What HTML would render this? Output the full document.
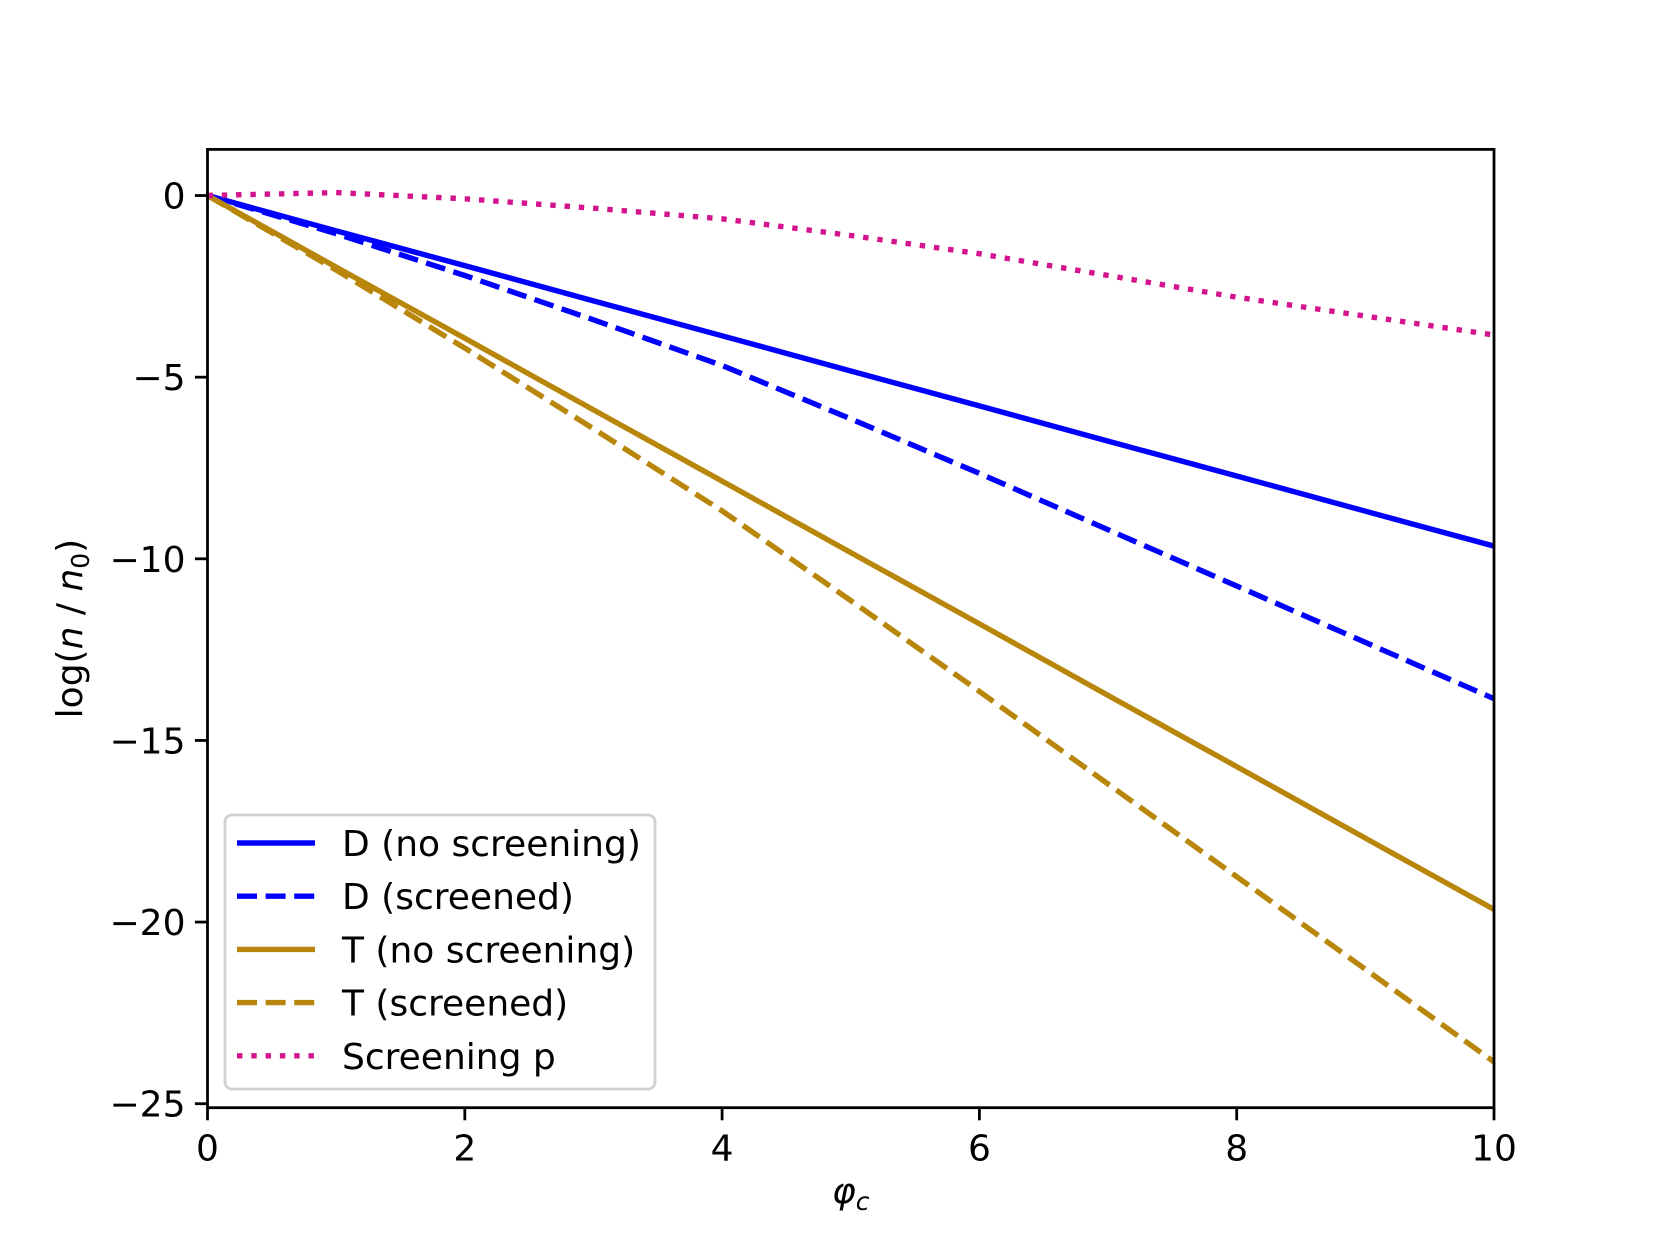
<!DOCTYPE html>
<html><head><meta charset="utf-8"><style>
html,body{margin:0;padding:0;background:#fff;}
svg{display:block;font-family:"DejaVu Sans","Liberation Sans",sans-serif;}
</style></head><body>
<svg id="chart" width="1660" height="1245" viewBox="0 0 1660 1245">
<g id="plot"></g>
</svg>
<script>
const xs = [0,1,2,3,4,5,6,7,8,9,10];
const dNoScreen = [0,-0.97,-1.93,-2.9,-3.86,-4.83,-5.79,-6.76,-7.72,-8.69,-9.65];
const dScreened = [0,-1.05,-2.2,-3.42,-4.68,-6.15,-7.65,-9.2,-10.75,-12.3,-13.85];
const tNoScreen = [0,-1.97,-3.93,-5.9,-7.86,-9.83,-11.79,-13.76,-15.72,-17.69,-19.65];
const tScreened = [0,-2.05,-4.2,-6.42,-8.68,-11.15,-13.65,-16.2,-18.75,-21.3,-23.85];
const screeningP = [0,0.08,-0.09,-0.35,-0.64,-1.1,-1.6,-2.2,-2.8,-3.32,-3.84];
const xTicks = [0,2,4,6,8,10];
const yTicks = [0,-5,-10,-15,-20,-25];
const yTickLabels = ["0","\u22125","\u221210","\u221215","\u221220","\u221225"];

const L=207.5,R=1494,T=149.4,B=1107.7;
const xMin=0,xMax=10,yMin=-25.11,yMax=1.27;
const sx=v=>L+(v-xMin)/(xMax-xMin)*(R-L);
const sy=v=>B-(v-yMin)/(yMax-yMin)*(B-T);
const NS="http://www.w3.org/2000/svg";
const g=document.getElementById('plot');
function mk(tag,attrs,parent){const e=document.createElementNS(NS,tag);for(const k in attrs)e.setAttribute(k,attrs[k]);(parent||g).appendChild(e);return e;}

const clip=mk('clipPath',{id:'clp'});
mk('rect',{x:L,y:T,width:R-L,height:B-T},clip);

const series=[
 {v:dNoScreen,c:'#0000ff',d:'',n:'line-d-no-screening'},
 {v:dScreened,c:'#0000ff',d:'20 8.6',n:'line-d-screened'},
 {v:tNoScreen,c:'#b8860b',d:'',n:'line-t-no-screening'},
 {v:tScreened,c:'#b8860b',d:'20 8.6',n:'line-t-screened'},
 {v:screeningP,c:'#d4148c',d:'5.4 8.9',n:'line-screening-p'}
];
series.forEach(s=>{
  const pts=xs.map((x,i)=>sx(x).toFixed(1)+','+sy(s.v[i]).toFixed(1)).join(' ');
  const p=mk('polyline',{points:pts,fill:'none',stroke:s.c,'stroke-width':5.4,'stroke-dasharray':s.d,'clip-path':'url(#clp)'});
  
  
});

const frame=mk('rect',{x:L,y:T,width:R-L,height:B-T,fill:'none',stroke:'#000','stroke-width':2.8});



xTicks.forEach(t=>{
  const tk=mk('line',{x1:sx(t),x2:sx(t),y1:B,y2:B+12.6,stroke:'#000','stroke-width':2.8});
  
  
  const tx=mk('text',{x:sx(t),y:B+53,'font-size':36,'text-anchor':'middle',fill:'#000'});
  tx.textContent=String(t);
  
  
});
yTicks.forEach((t,i)=>{
  const tk=mk('line',{x1:L-12.6,x2:L,y1:sy(t),y2:sy(t),stroke:'#000','stroke-width':2.8});
  
  
  const tx=mk('text',{x:L-22,y:sy(t)+13,'font-size':36,'text-anchor':'end',fill:'#000'});
  tx.textContent=yTickLabels[i];
  
  
});

const xl=mk('text',{x:(L+R)/2,y:1203,'font-size':36,'text-anchor':'middle',fill:'#000'});
xl.innerHTML='<tspan font-style="italic">φ</tspan><tspan font-style="italic" font-size="25" dy="7">c</tspan>';



const yl=mk('text',{x:0,y:0,'font-size':36,'text-anchor':'middle',fill:'#000',transform:'translate(82,'+((T+B)/2)+') rotate(-90)'});
yl.innerHTML='log(<tspan font-style="italic">n</tspan> / <tspan font-style="italic">n</tspan><tspan font-size="25" dy="7">0</tspan><tspan dy="-7">)</tspan>';



const lg=mk('g',{});


mk('rect',{x:225,y:815,width:430,height:274,rx:7,fill:'#fff','fill-opacity':0.8,stroke:'#d0d0d0','stroke-width':2.8},lg);
const labels=['D (no screening)','D (screened)','T (no screening)','T (screened)','Screening p'];
series.forEach((s,i)=>{
  const y=843+i*53.2;
  const ln=mk('line',{x1:237,x2:315,y1:y,y2:y,stroke:s.c,'stroke-width':5.4,'stroke-dasharray':s.d},lg);
  
  
  const tx=mk('text',{x:342,y:y+13,'font-size':36,fill:'#000'},lg);
  tx.textContent=labels[i];
  
  
});
</script>
</body></html>
